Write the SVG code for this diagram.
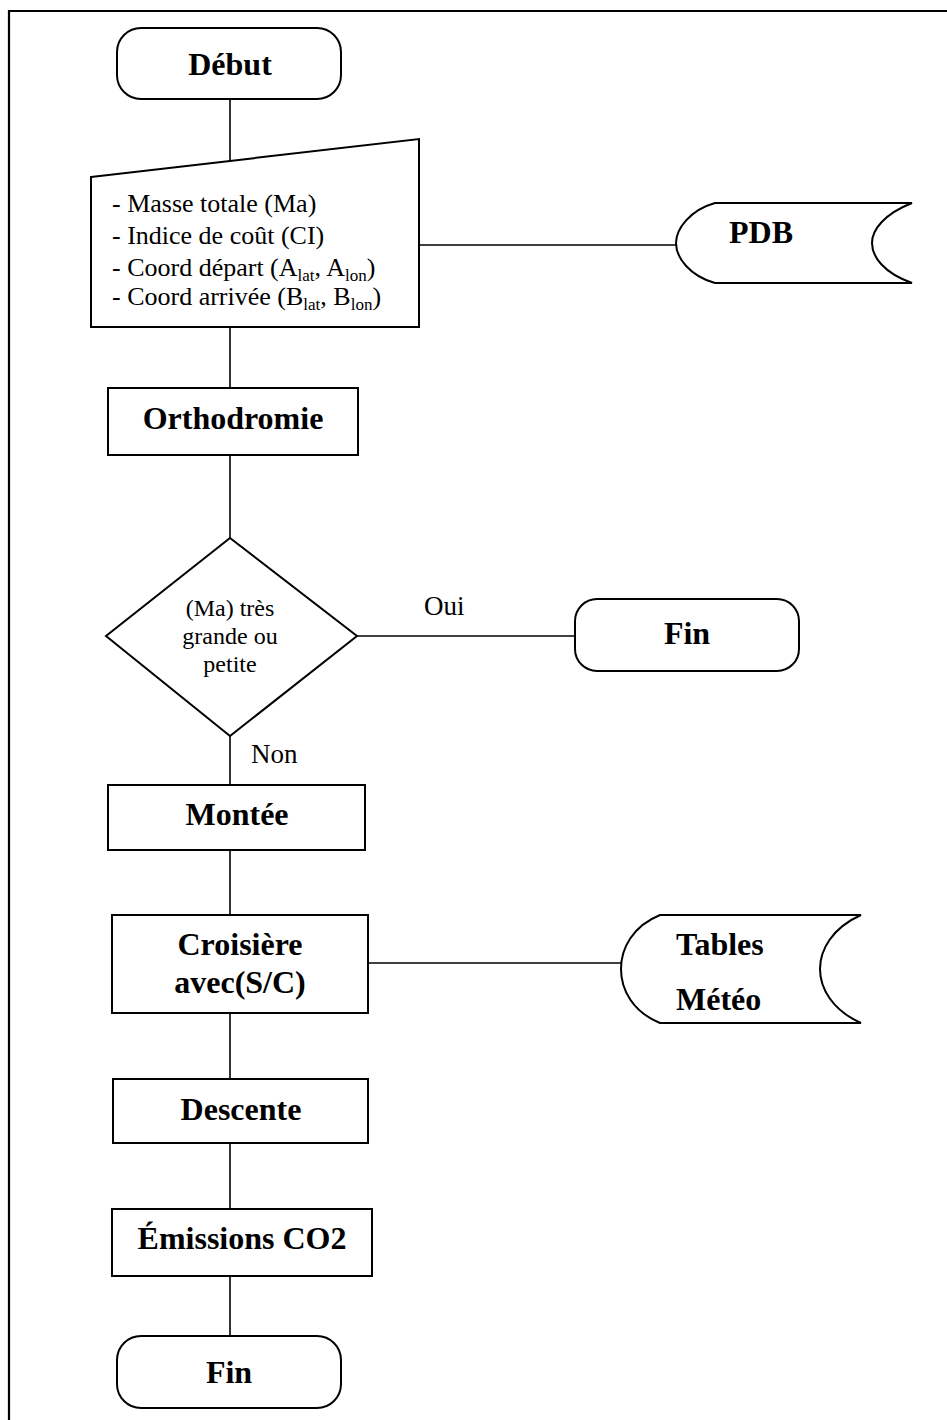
<svg xmlns="http://www.w3.org/2000/svg" width="947" height="1420" viewBox="0 0 947 1420">
<style>
.s{fill:#fff;stroke:#000;stroke-width:2}
.c{fill:none;stroke:#000;stroke-width:1.6}
.h{font-family:"Liberation Serif","Times New Roman",serif;font-weight:bold;font-size:32px;fill:#000;text-anchor:middle}
.t{font-family:"Liberation Serif","Times New Roman",serif;font-size:26px;fill:#000}
.d{font-family:"Liberation Serif","Times New Roman",serif;font-size:24px;fill:#000;text-anchor:middle}
.l{font-family:"Liberation Serif","Times New Roman",serif;font-size:27px;fill:#000}
.sub{font-size:17px}
</style>
<rect width="947" height="1420" fill="#fff"/>
<path d="M9 1420 V11 H947" fill="none" stroke="#000" stroke-width="2.2"/>
<g id="connectors">
<path class="c" d="M230 99 V161"/>
<path class="c" d="M230 327 V388"/>
<path class="c" d="M230 455 V538"/>
<path class="c" d="M357 636 H575"/>
<path class="c" d="M230 736 V785"/>
<path class="c" d="M230 850 V915"/>
<path class="c" d="M230 1013 V1079"/>
<path class="c" d="M230 1143 V1209"/>
<path class="c" d="M230 1276 V1336"/>
<path class="c" d="M419 245 H676"/>
<path class="c" d="M368 963 H621"/>
<text class="l" x="424" y="615">Oui</text>
<text class="l" x="251" y="763">Non</text>
</g>
<g id="debut">
<rect class="s" x="117" y="28" width="224" height="71" rx="24"/>
<text class="h" x="230" y="75">Début</text>
</g>
<g id="entree">
<path class="s" d="M91 177 L419 139 V327 H91 Z"/>
<text class="t" x="112" y="212">- Masse totale (Ma)</text>
<text class="t" x="112" y="244">- Indice de coût (CI)</text>
<text class="t" x="112" y="276">- Coord départ (A<tspan class="sub" dy="5">lat</tspan><tspan dy="-5">, A</tspan><tspan class="sub" dy="5">lon</tspan><tspan dy="-5">)</tspan></text>
<text class="t" x="112" y="305">- Coord arrivée (B<tspan class="sub" dy="5">lat</tspan><tspan dy="-5">, B</tspan><tspan class="sub" dy="5">lon</tspan><tspan dy="-5">)</tspan></text>
</g>
<g id="pdb">
<path class="s" d="M715 203 H912 C884 214 872 230 872 243 C872 257 884 273 912 283 H715 C690 276 676 258 676 243 C676 229 690 210 715 203 Z"/>
<text class="h" x="761" y="243">PDB</text>
</g>
<g id="orthodromie">
<rect class="s" x="108" y="388" width="250" height="67"/>
<text class="h" x="233" y="429">Orthodromie</text>
</g>
<g id="decision">
<path class="s" d="M230 538 L357 636 L230 736 L106 636 Z"/>
<text class="d" x="230" y="616">(Ma) très</text>
<text class="d" x="230" y="644">grande ou</text>
<text class="d" x="230" y="672">petite</text>
</g>
<g id="fin1">
<rect class="s" x="575" y="599" width="224" height="72" rx="22"/>
<text class="h" x="687" y="644">Fin</text>
</g>
<g id="montee">
<rect class="s" x="108" y="785" width="257" height="65"/>
<text class="h" x="237" y="825">Montée</text>
</g>
<g id="croisiere">
<rect class="s" x="112" y="915" width="256" height="98"/>
<text class="h" x="240" y="955">Croisière</text>
<text class="h" x="240" y="993">avec(S/C)</text>
</g>
<g id="tables">
<path class="s" d="M660 915 H861 C832 928 820 950 820 969 C820 988 832 1010 861 1023 H660 C633 1012 621 990 621 969 C621 948 633 926 660 915 Z"/>
<text class="h" x="676" y="955" style="text-anchor:start">Tables</text>
<text class="h" x="676" y="1010" style="text-anchor:start">Météo</text>
</g>
<g id="descente">
<rect class="s" x="113" y="1079" width="255" height="64"/>
<text class="h" x="241" y="1120">Descente</text>
</g>
<g id="emissions">
<rect class="s" x="112" y="1209" width="260" height="67"/>
<text class="h" x="242" y="1249">Émissions CO2</text>
</g>
<g id="fin2">
<rect class="s" x="117" y="1336" width="224" height="72" rx="24"/>
<text class="h" x="229" y="1383">Fin</text>
</g>
</svg>
